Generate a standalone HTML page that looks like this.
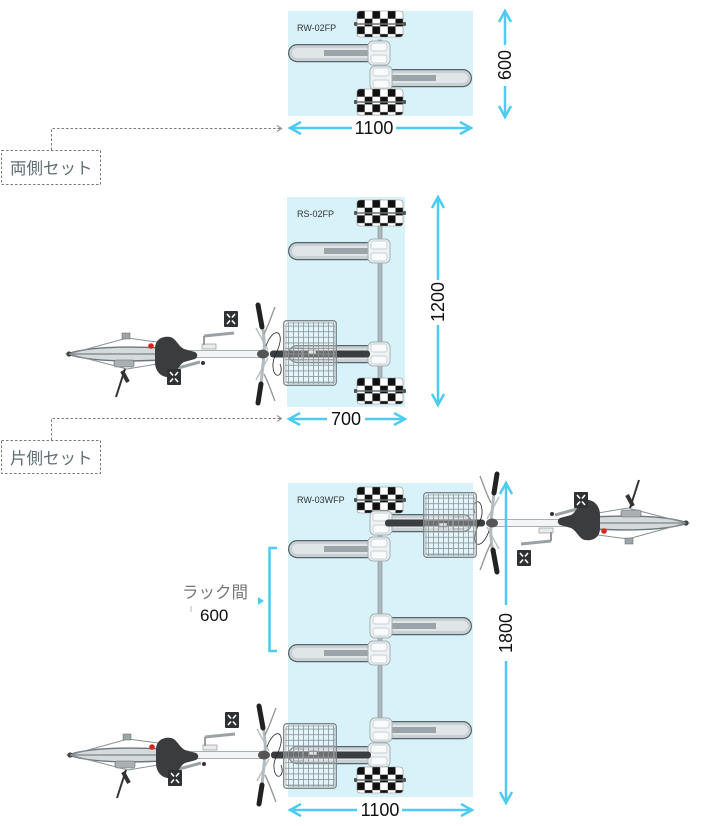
<!DOCTYPE html>
<html><head><meta charset="utf-8">
<style>
html,body{margin:0;padding:0;background:#fff;}
svg{display:block;}
text{font-family:"Liberation Sans","Noto Sans CJK JP",sans-serif;}
</style></head><body>
<svg width="706" height="826" viewBox="0 0 706 826" xmlns="http://www.w3.org/2000/svg">
<defs>
<pattern id="chkp" width="15.4" height="15.4" patternUnits="userSpaceOnUse">
<rect width="15.4" height="15.4" fill="#fff"/>
<rect width="7.7" height="7.7" fill="#111"/>
<rect x="7.7" y="7.7" width="7.7" height="7.7" fill="#111"/>
</pattern>
<pattern id="gridp" width="5" height="5.6" patternUnits="userSpaceOnUse">
<path d="M0.5 0 V5.6 M0 0.5 H5" stroke="#8b9396" stroke-width="0.8" fill="none"/>
</pattern>
<g id="chk">
<rect x="0" y="0" width="46" height="26" rx="3" fill="url(#chkp)" stroke="#888" stroke-width="0.6"/>
<line x1="-3" y1="13" x2="49" y2="13" stroke="#6b7275" stroke-width="1.6"/>
<rect x="-3" y="11" width="3" height="4" rx="1" fill="#555"/>
<rect x="46" y="11" width="3" height="4" rx="1" fill="#555"/>
</g>
<g id="armL">
<rect x="0.6" y="0.6" width="100" height="17" rx="8.5" fill="#c9d0d3" stroke="#56636a" stroke-width="1.2"/>
<rect x="4" y="4" width="84" height="10" rx="5" fill="#e0e5e7"/>
<rect x="36" y="6" width="50" height="6" fill="#9ba5a9"/>
<rect x="80" y="-3" width="22" height="24" rx="5" fill="#eef3f5" stroke="#a4b0b5" stroke-width="1"/>
<rect x="83" y="-1" width="16" height="8" rx="2" fill="#f8fafb" stroke="#b8c3c7" stroke-width="0.7"/>
<rect x="83" y="11" width="16" height="8" rx="2" fill="#f8fafb" stroke="#b8c3c7" stroke-width="0.7"/>
</g>
<g id="pedal">
<rect width="14" height="16" rx="1" fill="#2f3132"/>
<path d="M3,3 L6,6.5 M11,3 L8,6.5 M3,13 L6,9.5 M11,13 L8,9.5" stroke="#fff" stroke-width="1.6"/>
</g>
<g id="basket">
<rect x="0" y="0" width="54" height="66" rx="3" fill="rgba(255,255,255,0.25)"/>
<rect x="2" y="2" width="50" height="62" fill="url(#gridp)"/>
<rect x="0.7" y="0.7" width="52.6" height="64.6" rx="3" fill="none" stroke="#7d8588" stroke-width="1.3"/>
<rect x="3" y="3" width="48" height="60" rx="2" fill="none" stroke="#9aa2a5" stroke-width="0.8"/>
</g>
<g id="bike">
<rect x="8" y="-3.5" width="100" height="7" rx="3" fill="#3b3e40"/>
<path d="M30,-6 L40,-6 L40,6 L30,6" stroke="#8a9396" stroke-width="1" fill="none"/>
<rect x="46" y="-4" width="8" height="4" fill="#ddd" stroke="#555" stroke-width="0.6"/>
<path d="M-195,0 C-175,-7 -140,-8 -100,-6 L-100,6 C-140,8 -175,7 -195,0 Z" fill="#d5dadc" stroke="#6d777b" stroke-width="1.4"/>
<path d="M-193,0 L-100,0" stroke="#7c8588" stroke-width="1.2"/>
<circle cx="-193" cy="0" r="2.6" fill="#444"/>
<path d="M-193,0 L-135,-16 M-193,0 L-135,15 M-135,-16 L-105,-12 M-135,15 L-105,10" stroke="#8a9396" stroke-width="1" fill="none"/>
<rect x="-140" y="-21" width="8" height="6" fill="#9ca5a8" stroke="#666" stroke-width="0.5"/>
<rect x="-148" y="6" width="20" height="7" rx="2" fill="#a9b1b4" stroke="#666" stroke-width="0.6"/>
<path d="M-137,15 L-146,43" stroke="#333" stroke-width="2"/>
<path d="M-140,17 L-134,28" stroke="#333" stroke-width="4"/>
<rect x="-72" y="-3.5" width="70" height="7" fill="#f3f5f6" stroke="#a9b1b4" stroke-width="1"/>
<rect x="-60" y="-10" width="14" height="5" fill="#e9eced" stroke="#999" stroke-width="0.7"/>
<circle cx="-59" cy="9" r="2" fill="#333"/>
<path d="M-58,-18 L-28,-21" stroke="#9aa2a5" stroke-width="3"/>
<line x1="-58" y1="-18" x2="-58" y2="-9" stroke="#999" stroke-width="2"/>
<path d="M-62,8 L-84,14" stroke="#9aa2a5" stroke-width="3"/>
<path d="M-107,-5 C-107,-16 -98,-18 -92,-17 C-86,-16 -84,-8 -78,-5 L-67,-2 C-64,0 -64,3 -67,5 L-78,8 C-84,11 -86,22 -92,23 C-100,24 -107,18 -107,8 Z" fill="#3a3c3d"/>
<circle cx="-111" cy="-8" r="2.8" fill="#d7261e"/>
<use href="#pedal" x="-38" y="-43"/>
<use href="#pedal" x="-95" y="15"/>
<path d="M-6,-26 L6,-4 M-6,26 L6,4" stroke="#b9c1c4" stroke-width="1.5"/>
<path d="M-3,-48 C1,-30 3,-10 2,0 C1,12 -1,30 -3,48" stroke="#b3bbbe" stroke-width="3" fill="none"/>
<path d="M-4,-49 L0,-27" stroke="#222" stroke-width="5" stroke-linecap="round"/>
<path d="M-1,30 L-4,49" stroke="#222" stroke-width="5" stroke-linecap="round"/>
<path d="M2,-20 C8,-32 10,-40 13,-47 M2,20 C8,32 10,40 13,47" stroke="#999" stroke-width="1.4" fill="none"/>
<ellipse cx="1" cy="0" rx="6" ry="4.5" fill="#555"/>
<path d="M4,-8 C10,-25 20,-25 18,-12 C16,0 8,5 12,18 C15,25 22,20 18,10" stroke="#222" stroke-width="0.8" fill="none"/>
</g>
</defs>

<rect x="288" y="11" width="185" height="105" fill="#d8f2fa"/>
<text x="297" y="31" font-size="9" fill="#333">RW-02FP</text>
<rect x="378" y="40" width="4" height="48" fill="#b0b9bc" stroke="#7c878b" stroke-width="0.6"/>
<use href="#chk" transform="translate(357,11)"/>
<use href="#armL" transform="translate(288,44)"/>
<use href="#armL" transform="translate(472,69) scale(-1,1)"/>
<use href="#chk" transform="translate(357,89)"/>

<g stroke="#4dcbf1" stroke-width="2.5" fill="none">
<path d="M290,128 H352 M396,128 H471"/>
<path d="M301,122 L290,128 L301,134 M460,122 L471,128 L460,134"/>
<path d="M505,11 V45 M505,86 V117"/>
<path d="M499,22 L505,11 L511,22 M499,106 L505,117 L511,106"/>
</g>
<text x="374" y="134" font-size="18" fill="#111" text-anchor="middle">1100</text>
<text transform="translate(511,65) rotate(-90)" font-size="18" fill="#111" text-anchor="middle">600</text>

<g stroke="#7a7a7a" stroke-width="1" fill="none" stroke-dasharray="2.5 2">
<path d="M51.5,150 V128.5 H280"/>
<rect x="1.5" y="150.5" width="99" height="34"/>
</g>
<path d="M277,125.5 L281.5,128.5 L277,131.5" stroke="#7a7a7a" stroke-width="1" fill="none"/>
<text x="10" y="174" font-size="16.5" fill="#5f6e73">両側セット</text>

<rect x="287" y="197" width="118" height="210" fill="#d8f2fa"/>
<text x="297" y="217" font-size="9" fill="#333">RS-02FP</text>
<rect x="378" y="200" width="4" height="200" fill="#b0b9bc" stroke="#7c878b" stroke-width="0.6"/>
<use href="#chk" transform="translate(357,200)"/>
<use href="#armL" transform="translate(288,242)"/>
<use href="#armL" transform="translate(288,345)"/>
<use href="#chk" transform="translate(357,378)"/>
<use href="#bike" transform="translate(262,354)"/>
<use href="#basket" transform="translate(283,320)"/>

<g stroke="#4dcbf1" stroke-width="2.5" fill="none">
<path d="M438,197 V280 M438,325 V405"/>
<path d="M432,208 L438,197 L444,208 M432,394 L438,405 L444,394"/>
<path d="M289,419 H327 M365,419 H405"/>
<path d="M300,413 L289,419 L300,425 M394,413 L405,419 L394,425"/>
</g>
<text transform="translate(444,302) rotate(-90)" font-size="18" fill="#111" text-anchor="middle">1200</text>
<text x="346" y="425" font-size="18" fill="#111" text-anchor="middle">700</text>

<g stroke="#7a7a7a" stroke-width="1" fill="none" stroke-dasharray="2.5 2">
<path d="M51.5,440 V418.5 H280"/>
<rect x="1.5" y="440.5" width="99" height="33"/>
</g>
<path d="M277,415.5 L281.5,418.5 L277,421.5" stroke="#7a7a7a" stroke-width="1" fill="none"/>
<text x="10" y="464" font-size="16.5" fill="#5f6e73">片側セット</text>

<rect x="288" y="483" width="185" height="314" fill="#d8f2fa"/>
<text x="297" y="503" font-size="9" fill="#333">RW-03WFP</text>
<rect x="378" y="490" width="4" height="300" fill="#b0b9bc" stroke="#7c878b" stroke-width="0.6"/>
<use href="#chk" transform="translate(357,487)"/>
<use href="#armL" transform="translate(472,514) scale(-1,1)"/>
<use href="#armL" transform="translate(288,540)"/>
<use href="#armL" transform="translate(472,617) scale(-1,1)"/>
<use href="#armL" transform="translate(288,644)"/>
<use href="#armL" transform="translate(472,721) scale(-1,1)"/>
<use href="#armL" transform="translate(288,746)"/>
<use href="#chk" transform="translate(357,767)"/>

<use href="#bike" transform="translate(493,523) rotate(180)"/>
<use href="#basket" transform="translate(423,492)"/>
<use href="#bike" transform="translate(263,755)"/>
<use href="#basket" transform="translate(283,723)"/>

<g stroke="#4dcbf1" stroke-width="2.5" fill="none">
<path d="M506,483 V605 M506,661 V803"/>
<path d="M500,494 L506,483 L512,494 M500,792 L506,803 L512,792"/>
<path d="M290,810 H357 M402,810 H472"/>
<path d="M301,804 L290,810 L301,816 M461,804 L472,810 L461,816"/>
<path d="M277,548 H269.5 V651 H277"/>
</g>
<polygon points="258,597 264,601 258,605" fill="#4dcbf1"/>
<text transform="translate(512,633) rotate(-90)" font-size="18" fill="#111" text-anchor="middle">1800</text>
<text x="380" y="816" font-size="18" fill="#111" text-anchor="middle">1100</text>

<text x="182" y="598" font-size="16.5" fill="#777">ラック間</text>
<text x="200" y="621" font-size="17" fill="#111">600</text>
<line x1="191" y1="606" x2="191" y2="612" stroke="#bbb" stroke-width="1"/>
</svg>
</body></html>
